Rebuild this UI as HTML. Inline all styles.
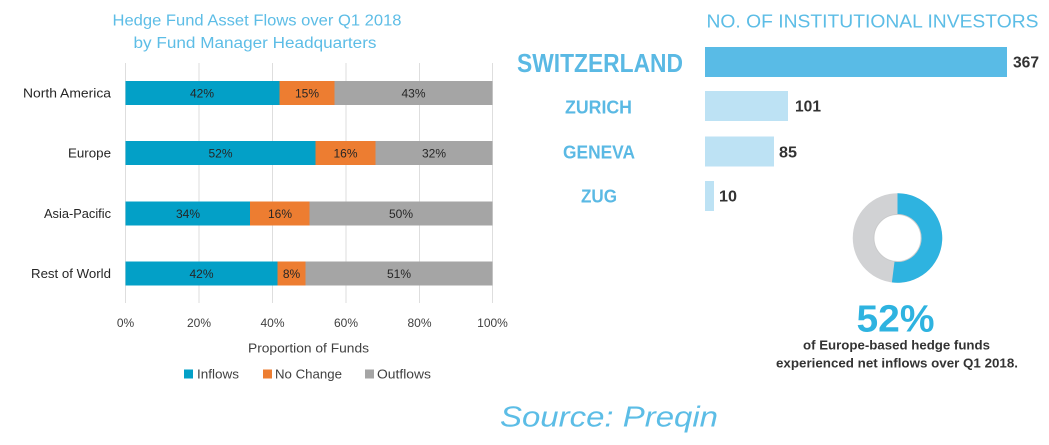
<!DOCTYPE html>
<html>
<head>
<meta charset="utf-8">
<style>
  html, body { margin:0; padding:0; background:#ffffff; }
  svg { display:block; }
  text { font-family: "Liberation Sans", "DejaVu Sans", sans-serif; }
</style>
</head>
<body>
<svg width="1049" height="445" viewBox="0 0 1049 445" xmlns="http://www.w3.org/2000/svg">
  <rect x="0" y="0" width="1049" height="445" fill="#ffffff"/>

  <!-- Left chart title -->
  <text x="257" y="25.5" font-size="15.5" fill="#5dbde6" text-anchor="middle" textLength="289" lengthAdjust="spacingAndGlyphs">Hedge Fund Asset Flows over Q1 2018</text>
  <text x="255" y="48" font-size="15.5" fill="#5dbde6" text-anchor="middle" textLength="243" lengthAdjust="spacingAndGlyphs">by Fund Manager Headquarters</text>

  <!-- Gridlines -->
  <g stroke="#dedede" stroke-width="1">
    <line x1="125.5" y1="63" x2="125.5" y2="303"/>
    <line x1="199" y1="63" x2="199" y2="303"/>
    <line x1="272.5" y1="63" x2="272.5" y2="303"/>
    <line x1="346" y1="63" x2="346" y2="303"/>
    <line x1="419.5" y1="63" x2="419.5" y2="303"/>
    <line x1="492.5" y1="63" x2="492.5" y2="303"/>
  </g>

  <!-- Bars -->
  <!-- North America -->
  <rect x="125.5" y="81" width="154" height="24" fill="#03a0c7"/>
  <rect x="279.5" y="81" width="55" height="24" fill="#ed7d31"/>
  <rect x="334.5" y="81" width="158" height="24" fill="#a5a5a5"/>
  <!-- Europe -->
  <rect x="125.5" y="141" width="190" height="24" fill="#03a0c7"/>
  <rect x="315.5" y="141" width="60" height="24" fill="#ed7d31"/>
  <rect x="375.5" y="141" width="117" height="24" fill="#a5a5a5"/>
  <!-- Asia-Pacific -->
  <rect x="125.5" y="201.5" width="124.5" height="24" fill="#03a0c7"/>
  <rect x="250" y="201.5" width="59.5" height="24" fill="#ed7d31"/>
  <rect x="309.5" y="201.5" width="183" height="24" fill="#a5a5a5"/>
  <!-- Rest of World -->
  <rect x="125.5" y="261.5" width="152" height="24" fill="#03a0c7"/>
  <rect x="277.5" y="261.5" width="28" height="24" fill="#ed7d31"/>
  <rect x="305.5" y="261.5" width="187" height="24" fill="#a5a5a5"/>

  <!-- Bar labels -->
  <g font-size="12" fill="#262626" text-anchor="middle">
    <text x="202" y="97.3">42%</text>
    <text x="307" y="97.3">15%</text>
    <text x="413.5" y="97.3">43%</text>

    <text x="220.5" y="157.3">52%</text>
    <text x="345.5" y="157.3">16%</text>
    <text x="434" y="157.3">32%</text>

    <text x="188" y="217.8">34%</text>
    <text x="280" y="217.8">16%</text>
    <text x="401" y="217.8">50%</text>

    <text x="201.5" y="277.8">42%</text>
    <text x="291.5" y="277.8">8%</text>
    <text x="399" y="277.8">51%</text>
  </g>

  <!-- Category labels -->
  <g font-size="13" fill="#262626" text-anchor="end">
    <text x="111" y="97.5" textLength="88" lengthAdjust="spacingAndGlyphs">North America</text>
    <text x="111" y="157.5" textLength="43" lengthAdjust="spacingAndGlyphs">Europe</text>
    <text x="111" y="218" textLength="67" lengthAdjust="spacingAndGlyphs">Asia-Pacific</text>
    <text x="111" y="278" textLength="80" lengthAdjust="spacingAndGlyphs">Rest of World</text>
  </g>

  <!-- Tick labels -->
  <g font-size="12" fill="#404040" text-anchor="middle">
    <text x="125.5" y="327">0%</text>
    <text x="199" y="327">20%</text>
    <text x="272.5" y="327">40%</text>
    <text x="346" y="327">60%</text>
    <text x="419.5" y="327">80%</text>
    <text x="492.5" y="327">100%</text>
  </g>
  <text x="308.5" y="352.5" font-size="13" fill="#404040" text-anchor="middle" textLength="121" lengthAdjust="spacingAndGlyphs">Proportion of Funds</text>

  <!-- Legend -->
  <rect x="184" y="369.5" width="9" height="9" fill="#03a0c7"/>
  <text x="197" y="378.5" font-size="13" fill="#404040" textLength="42" lengthAdjust="spacingAndGlyphs">Inflows</text>
  <rect x="263" y="369.5" width="9" height="9" fill="#ed7d31"/>
  <text x="275" y="378.5" font-size="13" fill="#404040" textLength="67" lengthAdjust="spacingAndGlyphs">No Change</text>
  <rect x="365" y="369.5" width="9" height="9" fill="#a5a5a5"/>
  <text x="377" y="378.5" font-size="13" fill="#404040" textLength="54" lengthAdjust="spacingAndGlyphs">Outflows</text>

  <!-- Right: title -->
  <text x="706.5" y="27.3" font-size="18" fill="#5cbde6" textLength="332" lengthAdjust="spacingAndGlyphs">NO. OF INSTITUTIONAL INVESTORS</text>

  <!-- Right labels -->
  <g font-weight="bold" fill="#5ab9e4" text-anchor="middle">
    <text x="600" y="72" font-size="26" textLength="166" lengthAdjust="spacingAndGlyphs">SWITZERLAND</text>
    <text x="598.5" y="113.3" font-size="18" textLength="67" lengthAdjust="spacingAndGlyphs">ZURICH</text>
    <text x="599" y="158.3" font-size="18" textLength="72" lengthAdjust="spacingAndGlyphs">GENEVA</text>
    <text x="599" y="202.7" font-size="18" textLength="36" lengthAdjust="spacingAndGlyphs">ZUG</text>
  </g>

  <!-- Right bars -->
  <rect x="705" y="47" width="302" height="30" fill="#59bbe6"/>
  <rect x="705" y="91" width="83" height="30" fill="#bde2f4"/>
  <rect x="705" y="136.5" width="69" height="30" fill="#bde2f4"/>
  <rect x="705" y="181" width="9" height="30" fill="#bde2f4"/>

  <!-- Values -->
  <g font-size="15.5" font-weight="bold" fill="#333333">
    <text x="1013" y="67.7" textLength="26" lengthAdjust="spacingAndGlyphs">367</text>
    <text x="795" y="111.7" textLength="26" lengthAdjust="spacingAndGlyphs">101</text>
    <text x="779" y="157.7" textLength="18" lengthAdjust="spacingAndGlyphs">85</text>
    <text x="719" y="201.7" textLength="18" lengthAdjust="spacingAndGlyphs">10</text>
  </g>

  <!-- Donut -->
  <circle cx="897.5" cy="238" r="34" fill="none" stroke="#d1d2d4" stroke-width="21.5"/>
  <path d="M 897.5 193.25 A 44.75 44.75 0 1 1 891.9 282.4 L 894.5 261.8 A 24 24 0 1 0 897.5 214 Z" fill="#2eb3e0"/>
  <circle cx="897.5" cy="238" r="23.5" fill="none" stroke="#bfbfbf" stroke-width="1" opacity="0.5"/>

  <!-- 52% -->
  <text x="895.5" y="331.7" font-size="38" font-weight="bold" fill="#2eb3e0" text-anchor="middle" textLength="78" lengthAdjust="spacingAndGlyphs">52%</text>
  <text x="896.5" y="349.5" font-size="12.5" font-weight="bold" fill="#333333" text-anchor="middle" textLength="187" lengthAdjust="spacingAndGlyphs">of Europe-based hedge funds</text>
  <text x="897" y="367.5" font-size="12.5" font-weight="bold" fill="#333333" text-anchor="middle" textLength="242" lengthAdjust="spacingAndGlyphs">experienced net inflows over Q1 2018.</text>

  <!-- Source -->
  <text x="609" y="426.7" font-size="29" font-style="italic" fill="#5cbde6" text-anchor="middle" textLength="218" lengthAdjust="spacingAndGlyphs">Source: Preqin</text>
</svg>
</body>
</html>
